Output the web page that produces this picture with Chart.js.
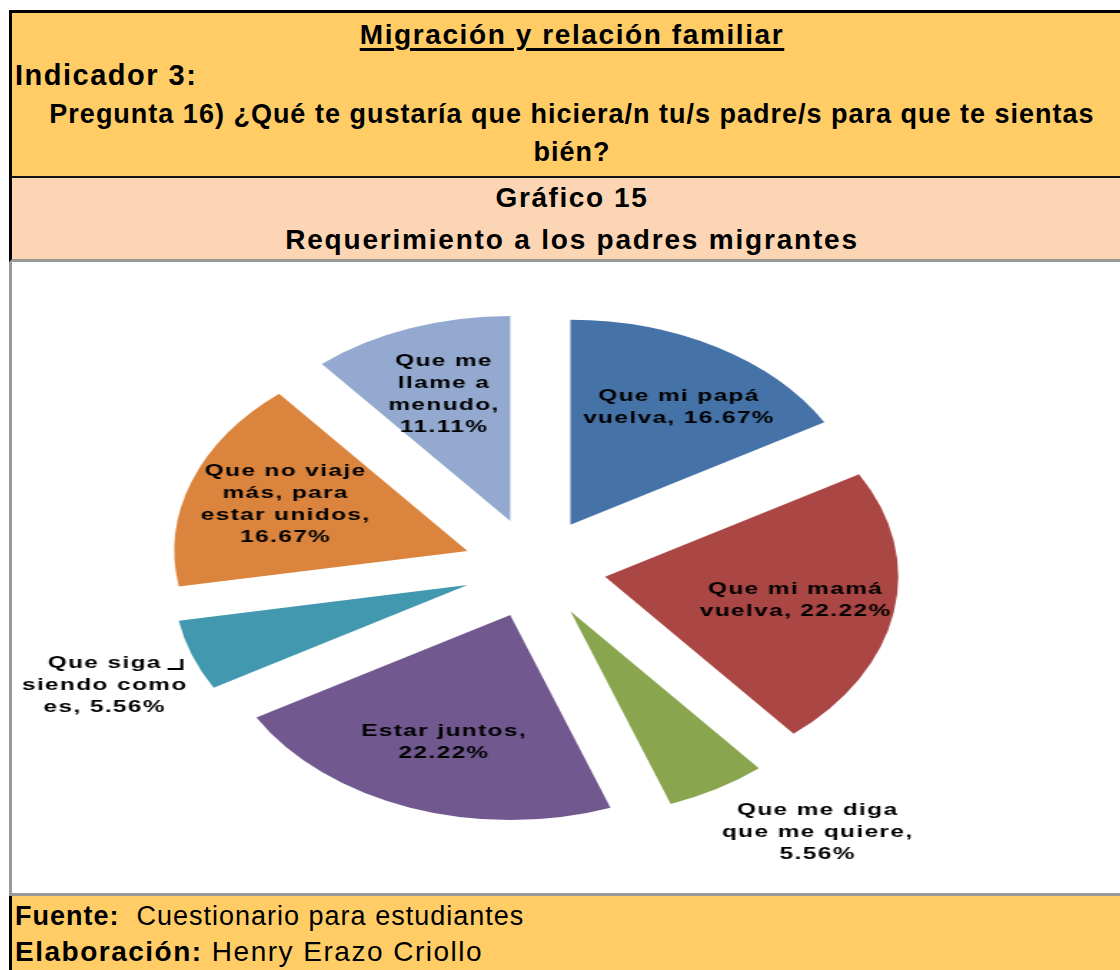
<!DOCTYPE html>
<html lang="es">
<head>
<meta charset="utf-8">
<title>Gráfico 15 - Requerimiento a los padres migrantes</title>
<script src="https://cdn.jsdelivr.net/npm/chart.js@4.4.1/dist/chart.umd.min.js"></script>
<style>
  html, body { margin: 0; padding: 0; width: 1120px; height: 970px; overflow: hidden; background: #fff;
    font-family: Arial, "Liberation Sans", sans-serif; color: #000; }
  .box { position: absolute; left: 9px; width: 1130px; box-sizing: border-box; }
  #header { top: 10px; height: 168px; background: #FFCC66; border-top: 3px solid #000; border-left: 3px solid #000; border-bottom: 2px solid #111; }
  #subheader { top: 178px; height: 84px; background: #FCD5B4; border-left: 3px solid #000; border-bottom: 3px solid #999; }
  #panel { top: 262px; height: 634px; background: #fff; border-left: 3px solid #999; border-bottom: 3px solid #999; }
  #footer { top: 896px; height: 80px; background: #FFCC66; border-left: 3px solid #000; }
  .txt { position: absolute; height: 30px; line-height: 30px; white-space: nowrap; font-weight: bold; letter-spacing: 1px; }
  .center { left: 12px; width: 1120px; text-align: center; }
  #chartBox { position: absolute; left: 12px; top: 262px; width: 775px; height: 631px;
    transform: scaleX(1.43); transform-origin: 0 0; }
</style>
</head>
<body>
<div class="box" id="header"></div>
<div class="box" id="subheader"></div>
<div class="box" id="panel"></div>
<div class="box" id="footer"></div>

<div class="txt center" style="top:20px; font-size:28px; letter-spacing:1.6px; text-decoration: underline; text-decoration-thickness: 3px; text-underline-offset: 4px;">Migración y relación familiar</div>
<div class="txt" style="left:15px; top:60px; font-size:29px; letter-spacing:1.5px;">Indicador 3:</div>
<div class="txt center" style="top:99px; font-size:27px;">Pregunta 16) ¿Qué te gustaría que hiciera/n tu/s padre/s para que te sientas</div>
<div class="txt center" style="top:137px; font-size:27px;">bién?</div>
<div class="txt center" style="top:183px; font-size:28px; letter-spacing:1.6px;">Gráfico 15</div>
<div class="txt center" style="top:225px; font-size:28px; letter-spacing:1.8px;">Requerimiento a los padres migrantes</div>
<div class="txt" style="left:15px; top:901px; font-size:27px;">Fuente:<span style="font-weight:normal">&nbsp; Cuestionario para estudiantes</span></div>
<div class="txt" style="left:15px; top:937px; font-size:28px; letter-spacing:1.5px;">Elaboración:<span style="font-weight:normal"> Henry Erazo Criollo</span></div>

<div id="chartBox"><canvas id="pieChart"></canvas></div>

<script>
// categories (line breaks as in the original labels) and their shares in %
const categories = [
  'Que mi papá\nvuelva',
  'Que mi mamá\nvuelva',
  'Que me diga\nque me quiere',
  'Estar juntos',
  'Que siga\nsiendo como\nes',
  'Que no viaje\nmás, para\nestar unidos',
  'Que me\nllame a\nmenudo'
];
const percentages = [16.67, 22.22, 5.56, 22.22, 5.56, 16.67, 11.11];
const sliceColors = ['#4572A7', '#AA4643', '#89A54E', '#71588F', '#4198AF', '#DB843D', '#93A9CF'];

// label placement: [distance as fraction of radius, angle shift in degrees]
const labelPlacement = [[0.68, 3], [0.66, 0], [1.37, -8], [0.66, 0], [1.33, -1.5], [0.66, 0], [0.66, 0]];
const leaderLine = [false, false, false, false, true, false, false];

const EXPLODE = 50;     // px each slice is pulled out
const LINE_H = 22;
const MAX_LINE = 140;

// pull every slice outward along its middle angle
const explodePlugin = {
  id: 'explode',
  afterDatasetsUpdate(chart) {
    chart.getDatasetMeta(0).data.forEach(arc => {
      const mid = (arc.startAngle + arc.endAngle) / 2;
      arc.x += Math.cos(mid) * EXPLODE;
      arc.y += Math.sin(mid) * EXPLODE;
    });
  }
};

function labelLines(i, c) {
  const parts = categories[i].split('\n');
  const last = parts.pop();
  const pct = percentages[i].toFixed(2) + '%';
  const joined = last + ', ' + pct;
  if (c.measureText(joined).width <= MAX_LINE) parts.push(joined);
  else parts.push(last + ',', pct);
  return parts;
}

const sliceLabels = {
  id: 'sliceLabels',
  afterDatasetsDraw(chart) {
    const c = chart.ctx;
    const meta = chart.getDatasetMeta(0);
    c.save();
    c.font = 'bold 17px Arial, "Liberation Sans", sans-serif';
    c.letterSpacing = '1px';
    c.fillStyle = '#000';
    c.strokeStyle = '#000';
    c.textAlign = 'center';
    c.textBaseline = 'middle';
    meta.data.forEach((arc, i) => {
      const lines = labelLines(i, c);
      const [frac, shift] = labelPlacement[i];
      const mid = (arc.startAngle + arc.endAngle) / 2 + shift * Math.PI / 180;
      const x = arc.x + Math.cos(mid) * arc.outerRadius * frac;
      const y = arc.y + Math.sin(mid) * arc.outerRadius * frac;
      const top = y - (lines.length - 1) * LINE_H / 2;
      lines.forEach((t, k) => c.fillText(t, x, top + k * LINE_H));

      if (leaderLine[i]) {
        const xr = x + c.measureText(lines[0]).width / 2;
        c.lineWidth = 2;
        c.beginPath();
        c.moveTo(xr + 4, top + 6);
        c.lineTo(xr + 14, top + 6);
        c.lineTo(xr + 14, top - 4);
        c.stroke();
      }
    });
    c.restore();
  }
};

new Chart(document.getElementById('pieChart'), {
  type: 'pie',
  data: {
    labels: categories,
    datasets: [{
      data: percentages,
      backgroundColor: sliceColors,
      borderWidth: 0,
      radius: 205
    }]
  },
  options: {
    responsive: true,
    maintainAspectRatio: false,
    animation: false,
    layout: { padding: { left: 0, right: 44, top: 0, bottom: 19 } },
    plugins: {
      legend: { display: false },
      tooltip: { enabled: false }
    }
  },
  plugins: [explodePlugin, sliceLabels]
});
</script>
</body>
</html>
